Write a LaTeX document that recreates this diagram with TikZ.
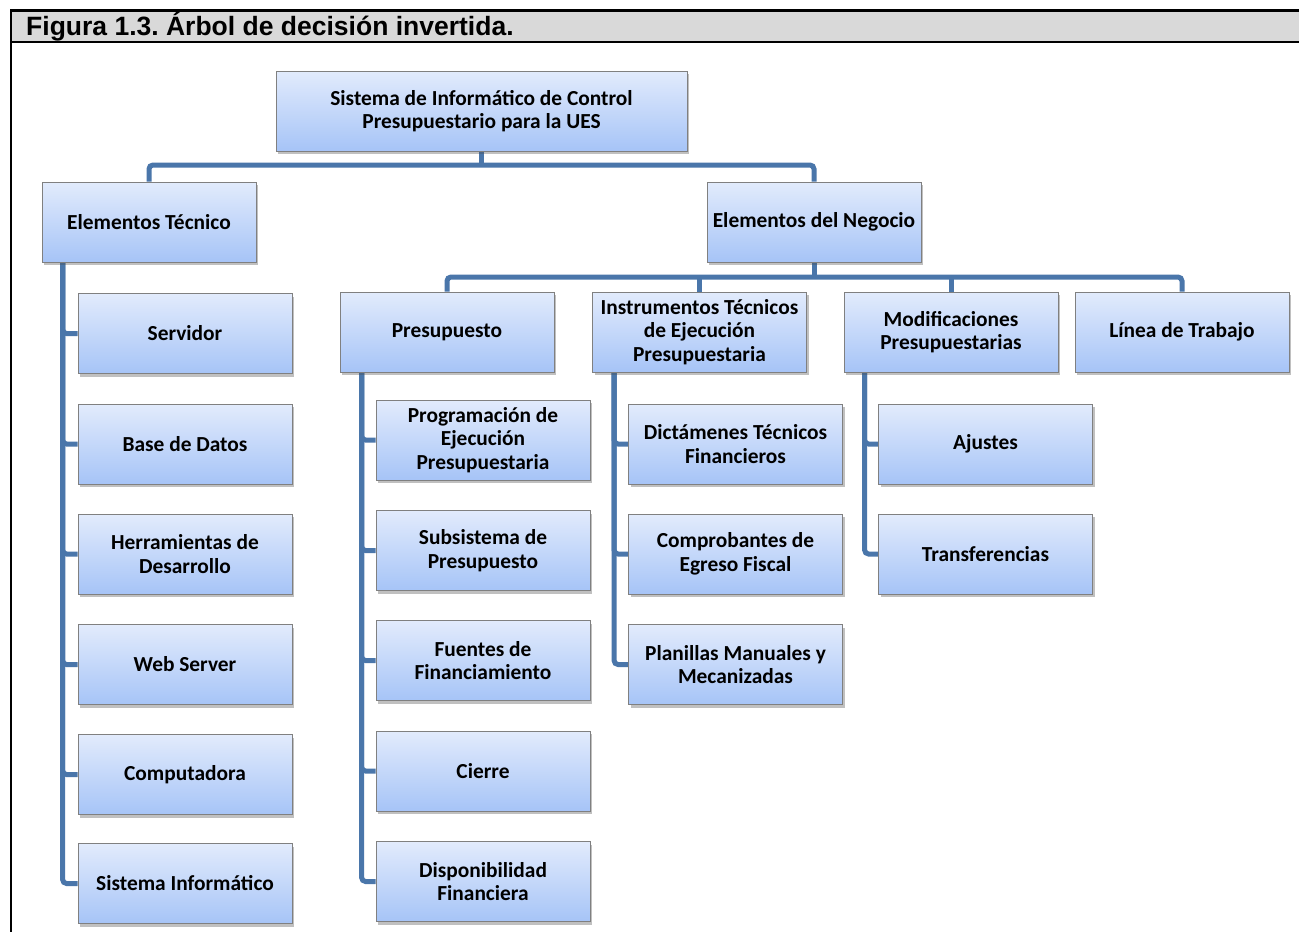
\documentclass[tikz,border=0pt]{standalone}
\usepackage{fontspec}
\setmainfont{Carlito}
\newfontfamily\headfont{Liberation Sans}
\usetikzlibrary{shadows,calc,backgrounds}
\definecolor{linkblue}{HTML}{4A76AA}
\definecolor{boxtop}{HTML}{E2EBFC}
\definecolor{boxbot}{HTML}{A6C4F7}
\definecolor{boxedge}{HTML}{808080}
\definecolor{headgray}{HTML}{D9D9D9}
\tikzset{
  box/.style={draw=boxedge, line width=0.8pt, top color=boxtop, bottom color=boxbot,
    minimum width=214pt, minimum height=80pt, inner sep=2pt, align=center,
    font=\fontsize{21.4}{23.6}\selectfont\bfseries,
    drop shadow={opacity=0.35, shadow xshift=2pt, shadow yshift=-3pt, fill=black!70}},
  conn/.style={draw=linkblue, line width=5pt},
  elbow/.style={conn, rounded corners=4pt},
  frameline/.style={line width=2.6pt, black}
}
\begin{document}
\frenchspacing
\begin{tikzpicture}[x=1pt,y=-1pt]
\useasboundingbox (0,0) rectangle (1299,935);

% caption bar and frame
\fill[headgray] (11,10.5) rectangle (1299,42);
\draw[frameline] (1299,10.5) -- (11,10.5) -- (11,932);
\draw[frameline] (11,42) -- (1299,42);
\node[anchor=base west, inner sep=0pt, font=\headfont\fontsize{26.5}{30}\selectfont\bfseries]
  (title) at (26,35) {Figura 1.3. Árbol de decisión invertida.};

% top levels
\node[box, minimum width=411pt] (root) at (481.5,111) {Sistema de Informático de Control\\Presupuestario para la UES};
\node[box] (tec) at (149,222) {Elementos Técnico};
\node[box] (neg) at (814,222) {Elementos del Negocio};

\node[box] (pres) at (447,332) {Presupuesto};
\node[box] (inst) at (699.5,332) {Instrumentos Técnicos\\de Ejecución\\Presupuestaria};
\node[box] (modi) at (951,332) {Modificaciones\\Presupuestarias};
\node[box] (linea) at (1182,332) {Línea de Trabajo};

% technical elements
\node[box] (t1) at (185,333.5) {Servidor};
\node[box] (t2) at (185,444) {Base de Datos};
\node[box] (t3) at (185,554) {Herramientas de\\Desarrollo};
\node[box] (t4) at (185,664.5) {Web Server};
\node[box] (t5) at (185,774.5) {Computadora};
\node[box] (t6) at (185,883.5) {Sistema Informático};

% budget
\node[box] (p1) at (483,440) {Programación de\\Ejecución\\Presupuestaria};
\node[box] (p2) at (483,550.5) {Subsistema de\\Presupuesto};
\node[box] (p3) at (483,660.5) {Fuentes de\\Financiamiento};
\node[box] (p4) at (483,771) {Cierre};
\node[box] (p5) at (483,881.5) {Disponibilidad\\Financiera};

% execution instruments
\node[box] (i1) at (735.5,444) {Dictámenes Técnicos\\Financieros};
\node[box] (i2) at (735.5,554) {Comprobantes de\\Egreso Fiscal};
\node[box] (i3) at (735.5,664.5) {Planillas Manuales y\\Mecanizadas};

% budget modifications
\node[box] (m1) at (985.5,444) {Ajustes};
\node[box] (m2) at (985.5,554) {Transferencias};

\begin{scope}[on background layer]
\fill[white] (0,0) rectangle (1299,935);
% root bus
\coordinate (bus1) at (481.5,165);
\draw[elbow] (tec.north) |- (bus1) -| (neg.north);
\draw[conn] (root.south) -- (bus1);

% business bus
\coordinate (bus2) at (814,277);
\draw[elbow] (pres.north) |- (bus2) -| (linea.north);
\draw[conn] (neg.south) -- (bus2);
\draw[conn] (inst.north) -- (inst.north |- bus2);
\draw[conn] (modi.north) -- (modi.north |- bus2);

% side spines
\foreach \c in {t1,t2,t3,t4,t5,t6}
  \draw[elbow] ($(tec.south west)+(21,0)$) |- (\c.west);
\foreach \c in {p1,p2,p3,p4,p5}
  \draw[elbow] ($(pres.south west)+(22,0)$) |- (\c.west);
\foreach \c in {i1,i2,i3}
  \draw[elbow] ($(inst.south west)+(22,0)$) |- (\c.west);
\foreach \c in {m1,m2}
  \draw[elbow] ($(modi.south west)+(21,0)$) |- (\c.west);
\end{scope}
\end{tikzpicture}
\end{document}
